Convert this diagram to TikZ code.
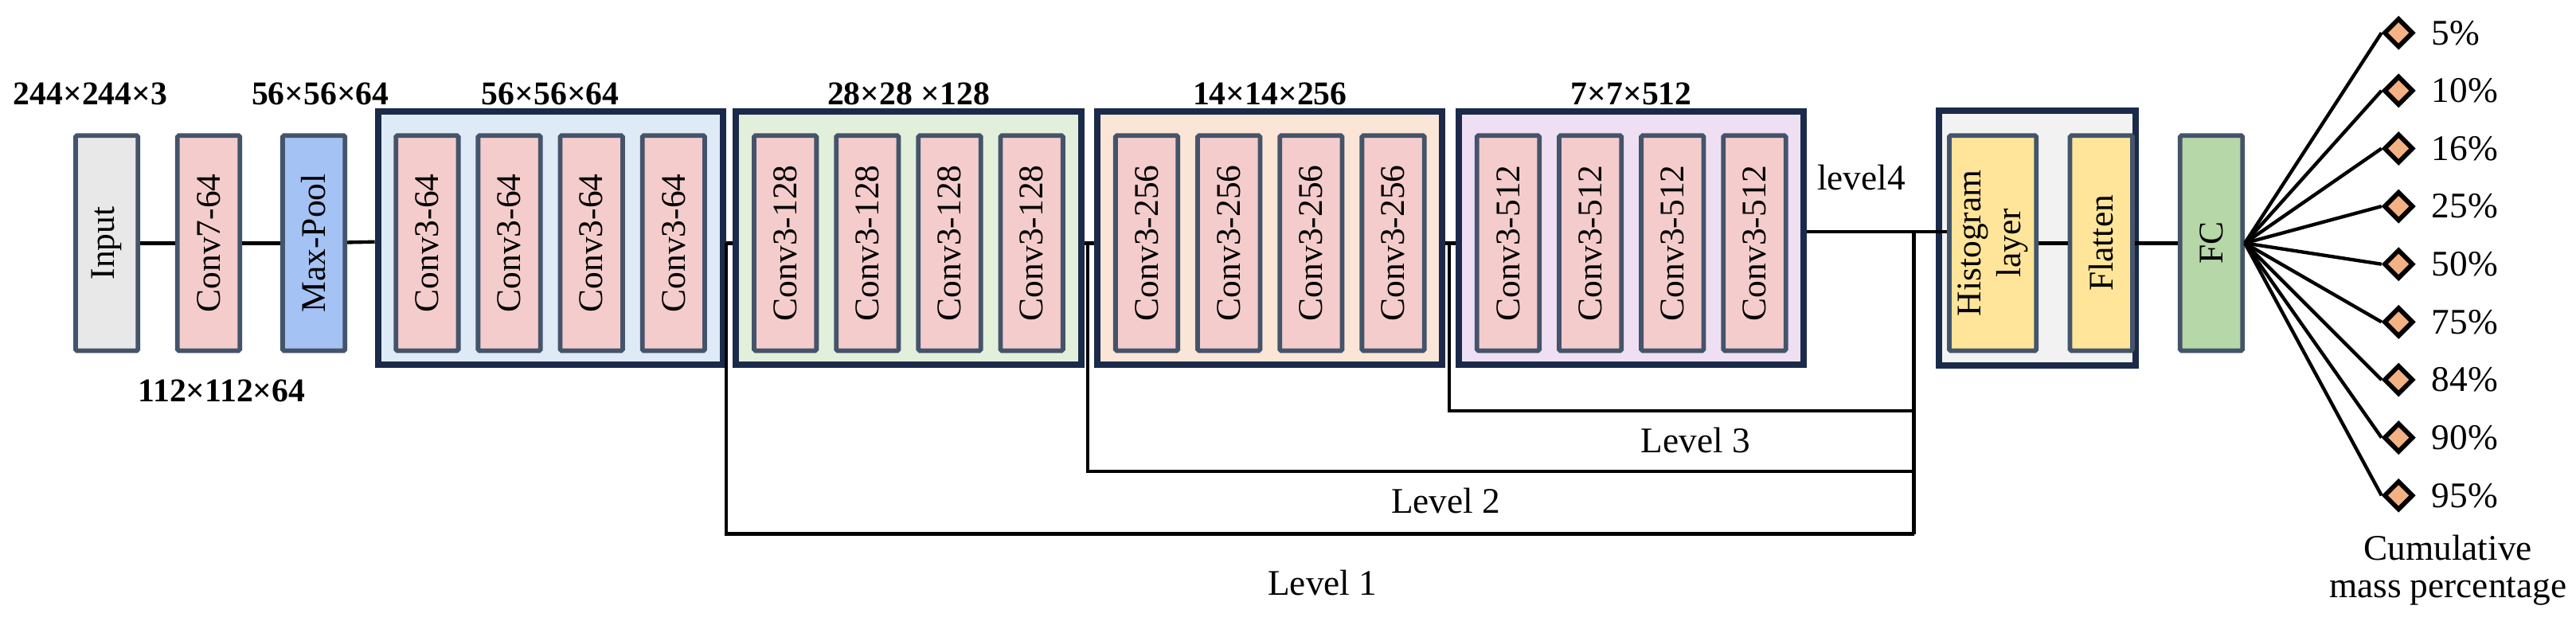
\documentclass[tikz,border=0pt]{standalone}
\usepackage{fontspec}
\setmainfont{Liberation Serif}
\usetikzlibrary{shapes.geometric,calc}
\definecolor{navy}{HTML}{1B2A4A}
\definecolor{slate}{HTML}{44546A}
\definecolor{convpink}{HTML}{F4CCCC}
\definecolor{poolblue}{HTML}{A4C2F4}
\definecolor{histyellow}{HTML}{FFE599}
\definecolor{fcgreen}{HTML}{B6D7A8}
\definecolor{pctorange}{HTML}{F4B183}
\definecolor{stageA}{HTML}{DEEAF6}
\definecolor{stageB}{HTML}{E2EFDA}
\definecolor{stageC}{HTML}{FBE5D6}
\definecolor{stageD}{HTML}{EEDFF3}
\begin{document}
\begin{tikzpicture}[x=0.02cm, y=-0.02cm,
    layer/.style={draw=slate, line width=1.6pt, rounded corners=0.5pt, minimum width=0.76cm, minimum height=2.62cm, inner sep=0pt, font=\fontsize{12}{13}\selectfont},
    block/.style={draw=navy, line width=2.2pt, minimum width=4.2cm, minimum height=3.08cm, inner sep=0pt},
    dims/.style={font=\bfseries\fontsize{11.5}{12}\selectfont},
    lvl/.style={font=\fontsize{12.5}{13}\selectfont},
    wire/.style={line width=1.2pt},
    pct/.style={diamond, draw=black, line width=1.6pt, fill=pctorange, minimum size=0.36cm, inner sep=0pt}]
    \useasboundingbox (0,0) rectangle (1568,385);

    % stem
    \node[layer, fill=gray!18] (in) at (65,148) {\rotatebox{90}{Input}};
    \node[layer, fill=convpink] (c7) at (127,148) {\rotatebox{90}{Conv7-64}};
    \node[layer, fill=poolblue] (mp) at (191,148) {\rotatebox{90}{Max-Pool}};
    \node[dims] at (55,57) {244×244×3};
    \node[dims] at (195,57) {56×56×64};
    \node[dims] at (135,238) {112×112×64};

    % residual stages
    \node[block, fill=stageA] (s1) at (335,145) {};
    \node[block, fill=stageB] (s2) at (553,145) {};
    \node[block, fill=stageC] (s3) at (773,145) {};
    \node[block, fill=stageD] (s4) at (993,145) {};
    \node[dims] at (335,57) {56×56×64};
    \node[dims] at (553,57) {28×28 ×128};
    \node[dims] at (773,57) {14×14×256};
    \node[dims] at (993,57) {7×7×512};
    \foreach \s/\ch in {1/64, 2/128, 3/256, 4/512} {
        \foreach \i in {0,...,3} {
            \node[layer, fill=convpink] (s\s c\i) at ($(s\s.center)+(-75+\i*50,3)$) {\rotatebox{90}{Conv3-\ch}};
        }
    }

    % head
    \node[draw=navy, line width=2.2pt, fill=gray!10, minimum width=2.4cm, minimum height=3.1cm, inner sep=0pt] (hb) at (1240,145) {};
    \node[layer, minimum width=1.06cm, fill=histyellow, align=center] (hist) at (1213,148) {\rotatebox{90}{\shortstack{Histogram\\layer}}};
    \node[layer, fill=histyellow] (flat) at (1279,148) {\rotatebox{90}{Flatten}};
    \node[layer, fill=fcgreen] (fc) at (1346,148) {\rotatebox{90}{FC}};

    \draw[wire] (in) -- (c7);
    \draw[wire] (c7) -- (mp);
    \draw[wire] (mp) -- (s1);
    \draw[wire] (s1.east |- 0,148) -- (s2.west |- 0,148);
    \draw[wire] (s2.east |- 0,148) -- (s3.west |- 0,148);
    \draw[wire] (s3.east |- 0,148) -- (s4.west |- 0,148);
    \draw[wire] (hist) -- (flat);
    \draw[wire] (flat) -- (fc);

    % multi-level taps
    \coordinate (bus) at (1165,141);
    \coordinate (bus1) at (1165,325);
    \draw[wire] (s4.east |- bus) -- (hist.west |- bus);
    \draw[wire] (bus) -- (bus1);
    \draw[wire] (442,148) -- (442,325) -- (bus1);
    \draw[wire] (662,148) -- (662,287) -- (1165,287);
    \draw[wire] (882,148) -- (882,250) -- (1165,250);
    \node[lvl] at (1133,108) {level4};
    \node[lvl] at (1032,268) {Level 3};
    \node[lvl] at (880,305) {Level 2};
    \node[lvl] at (805,355) {Level 1};

    % outputs
    \foreach \p [count=\k from 0] in {5,10,16,25,50,75,84,90,95} {
        \node[pct] (o\k) at (1460,20+\k*35.2) {};
        \node[lvl, anchor=west] at (1474,20+\k*35.2) {\p\%};
        \draw[wire] (fc.east) -- (o\k.west);
    }
    \node[lvl, align=center] at (1490,347) {Cumulative\\mass percentage};
\end{tikzpicture}
\end{document}
